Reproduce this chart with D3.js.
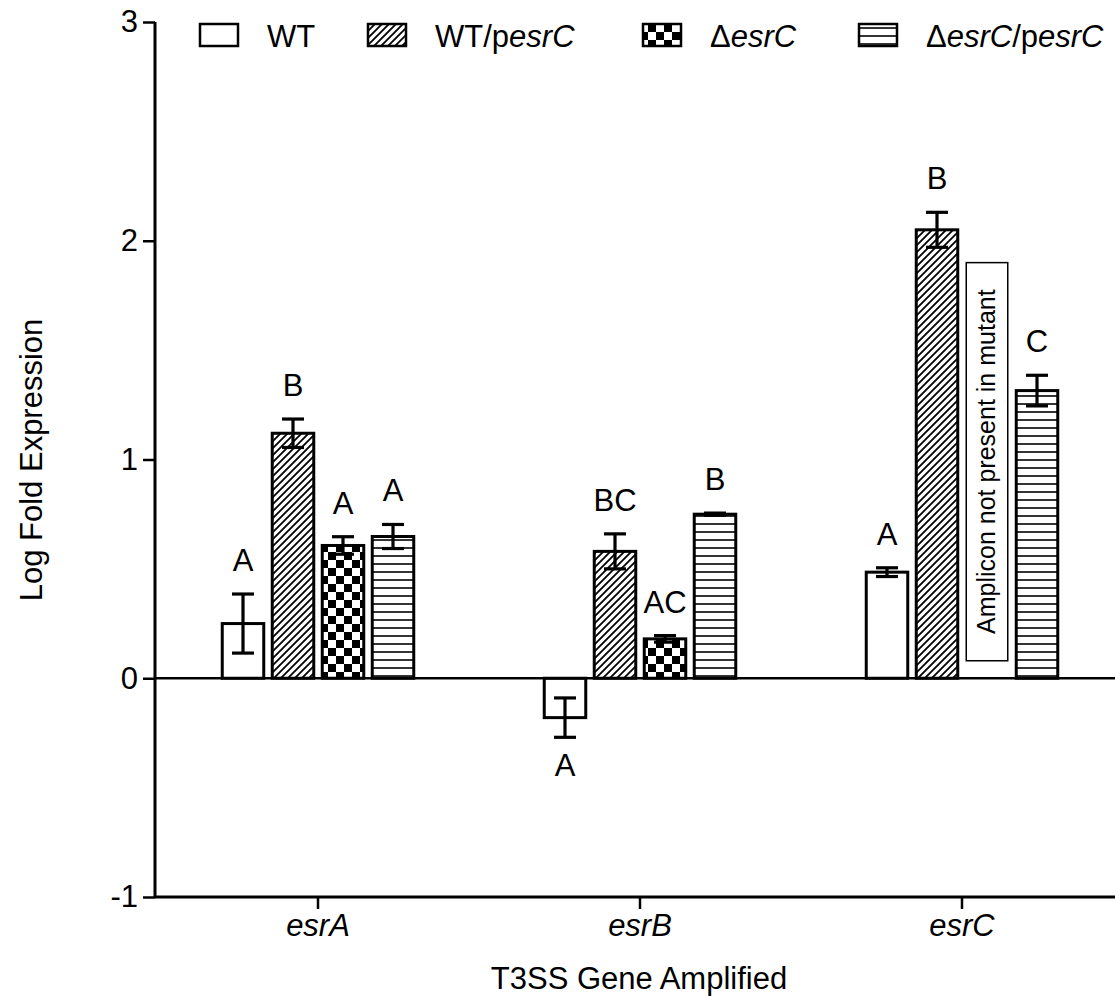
<!DOCTYPE html>
<html>
<head>
<meta charset="utf-8">
<script src="https://cdn.jsdelivr.net/npm/d3@7"></script>
<style>
  html, body { margin: 0; padding: 0; background: #fff; }
  svg { display: block; font-family: "Liberation Sans", Arial, sans-serif; }
</style>
</head>
<body>
<svg id="chart" width="1115" height="996"></svg>
<script>
// Genes on the x axis
const genes = ["esrA", "esrB", "esrC"];
// Strains (series)
const strains = ["WT", "WT/pesrC", "ΔesrC", "ΔesrC/pesrC"];

// Mean log fold expression per strain, one value per gene
const wtMean      = [0.25, -0.18, 0.485];
const wtPMean     = [1.12, 0.58, 2.05];
const mutMean     = [0.607, 0.18, null];   // no amplicon for esrC in the mutant
const mutPMean    = [0.648, 0.75, 1.315];

// Error (± SEM)
const wtErr   = [0.135, 0.09, 0.02];
const wtPErr  = [0.065, 0.08, 0.08];
const mutErr  = [0.04, 0.015, null];
const mutPErr = [0.055, 0.005, 0.07];

// Statistical grouping letters
const wtLetters   = ["A", "A", "A"];
const wtPLetters  = ["B", "BC", "B"];
const mutLetters  = ["A", "AC", ""];
const mutPLetters = ["A", "B", "C"];

const yTicks = [-1, 0, 1, 2, 3];

const means   = [wtMean, wtPMean, mutMean, mutPMean];
const errs    = [wtErr, wtPErr, mutErr, mutPErr];
const letters = [wtLetters, wtPLetters, mutLetters, mutPLetters];
const fills   = ["#fff", "url(#hatch)", "url(#checker)", "url(#hlines)"];

const rows = [];
genes.forEach((g, gi) => {
  strains.forEach((s, si) => {
    rows.push({ gene: g, strain: s, si, value: means[si][gi], err: errs[si][gi], letter: letters[si][gi] });
  });
});

const FONT = "Liberation Sans, Arial, sans-serif";
const svg = d3.select("#chart");

// ---- patterns ----
const defs = svg.append("defs");
const hatch = defs.append("pattern").attr("id", "hatch")
  .attr("patternUnits", "userSpaceOnUse").attr("width", 7).attr("height", 7);
hatch.append("rect").attr("width", 7).attr("height", 7).attr("fill", "#fff");
hatch.append("path").attr("d", "M-1.75,1.75 l3.5,-3.5 M0,7 l7,-7 M5.25,8.75 l3.5,-3.5")
  .attr("stroke", "#000").attr("stroke-width", 1.8);

const checker = defs.append("pattern").attr("id", "checker")
  .attr("patternUnits", "userSpaceOnUse").attr("width", 16).attr("height", 16);
checker.append("rect").attr("width", 16).attr("height", 16).attr("fill", "#fff");
checker.append("rect").attr("width", 8).attr("height", 8).attr("fill", "#000");
checker.append("rect").attr("x", 8).attr("y", 8).attr("width", 8).attr("height", 8).attr("fill", "#000");

const hl = defs.append("pattern").attr("id", "hlines")
  .attr("patternUnits", "userSpaceOnUse").attr("width", 8).attr("height", 8);
hl.append("rect").attr("width", 8).attr("height", 8).attr("fill", "#fff");
hl.append("line").attr("x1", 0).attr("x2", 8).attr("y1", 4).attr("y2", 4)
  .attr("stroke", "#000").attr("stroke-width", 1.6);

// ---- scales ----
const x0 = d3.scaleBand().domain(genes).range([157, 1123]).padding(0);
const x1 = d3.scaleBand().domain(strains).range([-100, 100]).paddingInner(0.17).paddingOuter(0.085);
const y = d3.scaleLinear().domain([-1, 3]).range([897, 22]);

const cx = d => x0(d.gene) + x0.bandwidth() / 2;

// ---- bars ----
const barData = rows.filter(d => d.value !== null);
svg.append("g").selectAll("rect").data(barData).join("rect")
  .attr("x", d => cx(d) + x1(d.strain))
  .attr("width", x1.bandwidth())
  .attr("y", d => y(Math.max(0, d.value)))
  .attr("height", d => Math.abs(y(d.value) - y(0)))
  .attr("fill", d => fills[d.si])
  .attr("stroke", "#000").attr("stroke-width", 3);

// ---- zero line ----
svg.append("line").attr("x1", 155).attr("x2", 1115).attr("y1", y(0)).attr("y2", y(0))
  .attr("stroke", "#000").attr("stroke-width", 2.5);

// ---- error bars ----
const eb = svg.append("g").attr("stroke", "#000").attr("stroke-width", 3.2);
barData.forEach(d => {
  const xc = cx(d) + x1(d.strain) + x1.bandwidth() / 2;
  const lo = y(d.value - d.err), hi = y(d.value + d.err);
  eb.append("line").attr("x1", xc).attr("x2", xc).attr("y1", lo).attr("y2", hi);
  eb.append("line").attr("x1", xc - 11).attr("x2", xc + 11).attr("y1", lo).attr("y2", lo);
  eb.append("line").attr("x1", xc - 11).attr("x2", xc + 11).attr("y1", hi).attr("y2", hi);
});

// ---- grouping letters ----
svg.append("g").selectAll("text").data(barData.filter(d => d.letter)).join("text")
  .attr("x", d => cx(d) + x1(d.strain) + x1.bandwidth() / 2)
  .attr("y", d => d.value >= 0 ? y(d.value + d.err) - 23 : y(d.value - d.err) + 39)
  .attr("text-anchor", "middle")
  .attr("font-size", 31)
  .text(d => d.letter);

// ---- note for the missing mutant amplicon ----
const noteX = x0("esrC") + x0.bandwidth() / 2 + x1("ΔesrC");
svg.append("rect")
  .attr("x", noteX).attr("width", x1.bandwidth())
  .attr("y", y(1.9)).attr("height", y(0.08) - y(1.9))
  .attr("fill", "#fff").attr("stroke", "#000").attr("stroke-width", 1.5);
svg.append("text")
  .attr("transform", `translate(${noteX + x1.bandwidth() / 2 + 8},${(y(1.9) + y(0.08)) / 2}) rotate(-90)`)
  .attr("text-anchor", "middle")
  .attr("font-size", 25)
  .text("Amplicon not present in mutant");

// ---- y axis ----
const yAxis = svg.append("g").attr("transform", "translate(155,0)")
  .call(d3.axisLeft(y).tickValues(yTicks).tickFormat(d => String(d)).tickSize(12).tickPadding(5));
yAxis.select(".domain").attr("stroke-width", 3).attr("d", `M0,${y(3)}V${y(-1)}`);
yAxis.selectAll(".tick line").attr("stroke-width", 2.5);
yAxis.selectAll(".tick text").attr("font-size", 31).attr("font-family", FONT).attr("fill", "#000");

// ---- x axis ----
const xAxis = svg.append("g").attr("transform", `translate(0,${y(-1)})`)
  .call(d3.axisBottom(x0).tickSize(12).tickPadding(5));
xAxis.select(".domain").attr("stroke-width", 3).attr("d", `M155,0H1115`);
xAxis.selectAll(".tick line").attr("stroke-width", 2.5);
xAxis.selectAll(".tick text").attr("font-size", 31).attr("font-style", "italic")
  .attr("font-family", FONT).attr("fill", "#000");

// ---- axis titles ----
svg.append("text").attr("x", 639).attr("y", 989).attr("text-anchor", "middle")
  .attr("font-size", 31).text("T3SS Gene Amplified");
svg.append("text").attr("transform", `translate(42,460) rotate(-90)`).attr("text-anchor", "middle")
  .attr("font-size", 31).text("Log Fold Expression");

// ---- legend ----
const legendItems = [
  { si: 0, x: 200, parts: [["WT", false]] },
  { si: 1, x: 368, parts: [["WT/p", false], ["esrC", true]] },
  { si: 2, x: 643, parts: [["Δ", false], ["esrC", true]] },
  { si: 3, x: 859, parts: [["Δ", false], ["esrC", true], ["/p", false], ["esrC", true]] }
];
const lg = svg.append("g");
legendItems.forEach(it => {
  lg.append("rect").attr("x", it.x).attr("y", 24).attr("width", 38).attr("height", 22)
    .attr("fill", fills[it.si]).attr("stroke", "#000").attr("stroke-width", 2.5);
  const t = lg.append("text").attr("x", it.x + 67).attr("y", 47).attr("font-size", 31);
  it.parts.forEach(([s, ital]) => t.append("tspan").attr("font-style", ital ? "italic" : "normal").text(s));
});
</script>
</body>
</html>
